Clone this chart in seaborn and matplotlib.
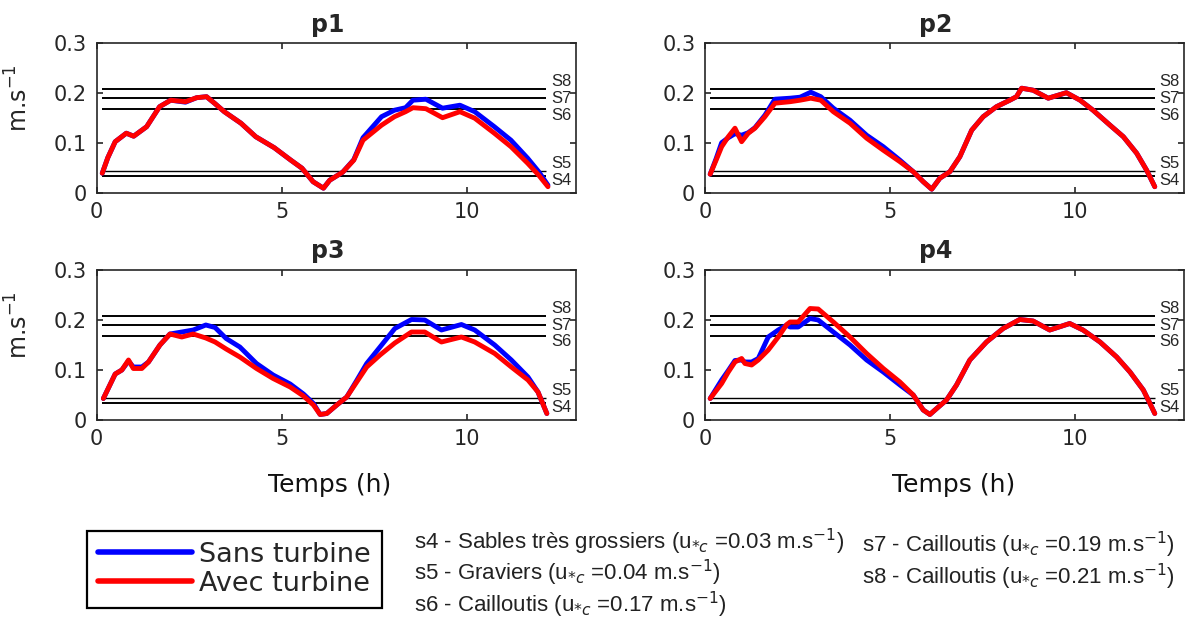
import matplotlib
matplotlib.use("Agg")
import matplotlib.pyplot as plt
import seaborn as sns

# --- data -------------------------------------------------------------------
t1 = [0.15, 0.3, 0.5, 0.8, 1.0, 1.35, 1.7, 2.0, 2.4, 2.7, 2.97, 3.2, 3.45, 3.9, 4.3,
      4.8, 5.25, 5.55, 5.85, 6.13, 6.3, 6.65, 6.95, 7.2, 7.7, 8.05, 8.35, 8.55, 8.9,
      9.35, 9.82, 10.22, 10.75, 11.2, 11.65, 11.95, 12.2]
sans1 = [0.039, 0.07, 0.102, 0.119, 0.113, 0.132, 0.172, 0.185, 0.181, 0.19, 0.192,
         0.178, 0.162, 0.139, 0.112, 0.09, 0.065, 0.049, 0.022, 0.009, 0.025, 0.041,
         0.066, 0.11, 0.152, 0.165, 0.17, 0.185, 0.187, 0.169, 0.175, 0.162, 0.132,
         0.105, 0.069, 0.042, 0.015]
avec1 = [0.039, 0.07, 0.102, 0.119, 0.113, 0.132, 0.172, 0.185, 0.182, 0.19, 0.192,
         0.178, 0.162, 0.139, 0.112, 0.09, 0.065, 0.049, 0.022, 0.009, 0.025, 0.041,
         0.065, 0.105, 0.135, 0.152, 0.162, 0.17, 0.168, 0.15, 0.162, 0.149, 0.119,
         0.092, 0.059, 0.035, 0.012]

t2 = [0.14, 0.3, 0.45, 0.63, 0.81, 0.99, 1.17, 1.35, 1.62, 1.89, 2.3, 2.57, 2.86, 3.13,
      3.47, 3.92, 4.37, 4.82, 5.27, 5.63, 5.9, 6.13, 6.35, 6.62, 6.89, 7.21, 7.52, 7.88,
      8.24, 8.42, 8.56, 8.87, 9.28, 9.77, 10.14, 10.49, 10.95, 11.31, 11.67, 11.94, 12.16]
sans2 = [0.037, 0.068, 0.1, 0.11, 0.118, 0.115, 0.12, 0.13, 0.155, 0.187, 0.189, 0.191,
         0.201, 0.192, 0.169, 0.145, 0.115, 0.092, 0.065, 0.042, 0.022, 0.007, 0.029,
         0.042, 0.072, 0.125, 0.152, 0.172, 0.185, 0.192, 0.209, 0.205, 0.189, 0.2,
         0.185, 0.165, 0.135, 0.112, 0.079, 0.045, 0.012]
avec2 = [0.037, 0.065, 0.092, 0.112, 0.129, 0.102, 0.119, 0.129, 0.152, 0.179, 0.182,
         0.185, 0.189, 0.185, 0.162, 0.139, 0.109, 0.085, 0.062, 0.042, 0.022, 0.007,
         0.029, 0.042, 0.072, 0.125, 0.152, 0.172, 0.185, 0.192, 0.209, 0.205, 0.189,
         0.2, 0.185, 0.165, 0.135, 0.112, 0.079, 0.045, 0.012]

t3 = [0.18, 0.5, 0.68, 0.86, 0.99, 1.22, 1.4, 1.71, 1.98, 2.3, 2.61, 2.95, 3.2, 3.5,
      3.87, 4.32, 4.77, 5.23, 5.59, 5.86, 6.04, 6.22, 6.49, 6.76, 7.03, 7.3, 7.66, 8.06,
      8.51, 8.87, 9.32, 9.86, 10.22, 10.76, 11.21, 11.66, 11.93, 12.17]
sans3 = [0.042, 0.091, 0.099, 0.117, 0.105, 0.105, 0.115, 0.149, 0.171, 0.175, 0.179,
         0.189, 0.184, 0.162, 0.145, 0.112, 0.089, 0.071, 0.051, 0.032, 0.01, 0.012,
         0.029, 0.045, 0.078, 0.112, 0.145, 0.182, 0.2, 0.199, 0.179, 0.19, 0.179,
         0.149, 0.119, 0.085, 0.055, 0.012]
avec3 = [0.042, 0.091, 0.099, 0.119, 0.102, 0.102, 0.115, 0.149, 0.171, 0.165, 0.171,
         0.163, 0.155, 0.141, 0.125, 0.102, 0.082, 0.065, 0.047, 0.029, 0.01, 0.012,
         0.029, 0.045, 0.075, 0.105, 0.129, 0.153, 0.175, 0.175, 0.155, 0.165, 0.155,
         0.132, 0.105, 0.079, 0.055, 0.012]

t4 = [0.14, 0.45, 0.63, 0.81, 0.99, 1.08, 1.26, 1.44, 1.71, 1.98, 2.21, 2.3, 2.52, 2.84,
      3.06, 3.47, 3.92, 4.37, 4.82, 5.27, 5.63, 5.9, 6.08, 6.31, 6.53, 6.8, 7.16, 7.61,
      8.06, 8.51, 8.87, 9.32, 9.86, 10.22, 10.68, 11.13, 11.49, 11.85, 12.03, 12.16]
sans4 = [0.042, 0.079, 0.098, 0.118, 0.119, 0.115, 0.115, 0.122, 0.165, 0.179, 0.189,
         0.185, 0.185, 0.202, 0.199, 0.175, 0.149, 0.119, 0.095, 0.069, 0.049, 0.019,
         0.01, 0.025, 0.039, 0.069, 0.119, 0.155, 0.182, 0.2, 0.197, 0.179, 0.192,
         0.179, 0.155, 0.125, 0.095, 0.059, 0.032, 0.012]
avec4 = [0.042, 0.072, 0.095, 0.115, 0.122, 0.112, 0.109, 0.119, 0.139, 0.165, 0.19,
         0.195, 0.195, 0.222, 0.221, 0.195, 0.165, 0.132, 0.102, 0.075, 0.049, 0.019,
         0.01, 0.025, 0.039, 0.069, 0.119, 0.155, 0.182, 0.2, 0.197, 0.179, 0.192,
         0.179, 0.155, 0.125, 0.095, 0.059, 0.032, 0.012]

panel_names = ["p1", "p2", "p3", "p4"]
panel_times = [t1, t2, t3, t4]
panel_sans = [sans1, sans2, sans3, sans4]
panel_avec = [avec1, avec2, avec3, avec4]

threshold_names = ["S4", "S5", "S6", "S7", "S8"]
threshold_values = [0.033, 0.043, 0.167, 0.189, 0.208]

series_labels = ["Sans turbine", "Avec turbine"]
sediment_texts = [
    "s4 - Sables très grossiers (u$_{*c}$ =0.03 m.s$^{-1}$)",
    "s5 - Graviers (u$_{*c}$ =0.04 m.s$^{-1}$)",
    "s6 - Cailloutis (u$_{*c}$ =0.17 m.s$^{-1}$)",
    "s7 - Cailloutis (u$_{*c}$ =0.19 m.s$^{-1}$)",
    "s8 - Cailloutis (u$_{*c}$ =0.21 m.s$^{-1}$)",
]

# --- style ------------------------------------------------------------------
sns.set_style("ticks")
plt.rcParams["font.family"] = ["DejaVu Sans"]
plt.rcParams["axes.edgecolor"] = "#262626"
plt.rcParams["axes.linewidth"] = 1.2

W, H = 1187, 618
fig = plt.figure(figsize=(W / 100, H / 100), dpi=100)

boxes = [
    [96.7, 42.7], [705, 42.7],
    [96.7, 269.5], [705, 269.5],
]
ax_w, ax_h = 479, 150

label_offsets = {"S4": -0.009, "S5": 0.015, "S6": -0.012, "S7": 0.0, "S8": 0.014}
narrow = ["Liberation Sans", "DejaVu Sans"]

axes = []
for i, name in enumerate(panel_names):
    left, top = boxes[i]
    ax = fig.add_axes([left / W, 1 - (top + ax_h) / H, ax_w / W, ax_h / H])
    axes.append(ax)

    for lvl, sname in zip(threshold_values, threshold_names):
        lw = 1.0 if sname == "S5" else 1.4
        ax.hlines(lvl, 0.13, 12.16, color="black", lw=lw, zorder=1)
        ax.text(12.28, lvl + label_offsets[sname], sname, fontsize=12,
                family=narrow, va="center", ha="left")

    sns.lineplot(x=panel_times[i], y=panel_sans[i], ax=ax, color="#0000FF", lw=3.5,
                 estimator=None, label=series_labels[0], legend=False, zorder=3)
    sns.lineplot(x=panel_times[i], y=panel_avec[i], ax=ax, color="#FF0000", lw=3.5,
                 estimator=None, label=series_labels[1], legend=False, zorder=4)

    ax.set_xlim(0, 12.95)
    ax.set_ylim(0, 0.3)
    ax.set_xticks([0, 5, 10])
    ax.set_yticks([0, 0.1, 0.2, 0.3])
    ax.set_yticklabels(["0", "0.1", "0.2", "0.3"])
    ax.tick_params(direction="in", top=True, right=True, length=4, width=1.2,
                   labelsize=15, labelcolor="#262626", pad=7)
    for sp in ax.spines.values():
        sp.set_visible(True)
    ax.set_title(name, fontsize=17, fontweight="bold", pad=8, x=0.482)

    if i in (0, 2):
        ax.set_ylabel("m.s$^{-1}$", fontsize=17, color="#262626")
        ax.yaxis.set_label_coords(-0.133, 0.63)
    else:
        ax.set_ylabel("")
    if i in (2, 3):
        ax.set_xlabel("Temps (h)", fontsize=18, color="#111111")
        ax.xaxis.set_label_coords(0.486 if i == 2 else 0.52, -0.355)
    else:
        ax.set_xlabel("")

handles = [axes[0].lines[-2], axes[0].lines[-1]]
leg = fig.legend(handles, series_labels, loc="upper left",
                 bbox_to_anchor=(86.7 / W, 1 - 530.7 / H), borderaxespad=0,
                 fontsize=19.5, handlelength=3.5, handletextpad=0.25,
                 labelspacing=0.12, borderpad=0.4, fancybox=False,
                 edgecolor="black", framealpha=1)
leg.get_frame().set_linewidth(1.6)
for ln in leg.get_lines():
    ln.set_linewidth(4)

text_pos = [(414, 542), (414, 573), (414, 605), (862, 545), (862, 577)]
for txt, (x, y) in zip(sediment_texts, text_pos):
    fig.text(x / W, 1 - y / H, txt, fontsize=16, va="center", ha="left",
             family=narrow, color="#222222")

fig.savefig("out.png", dpi=100)
